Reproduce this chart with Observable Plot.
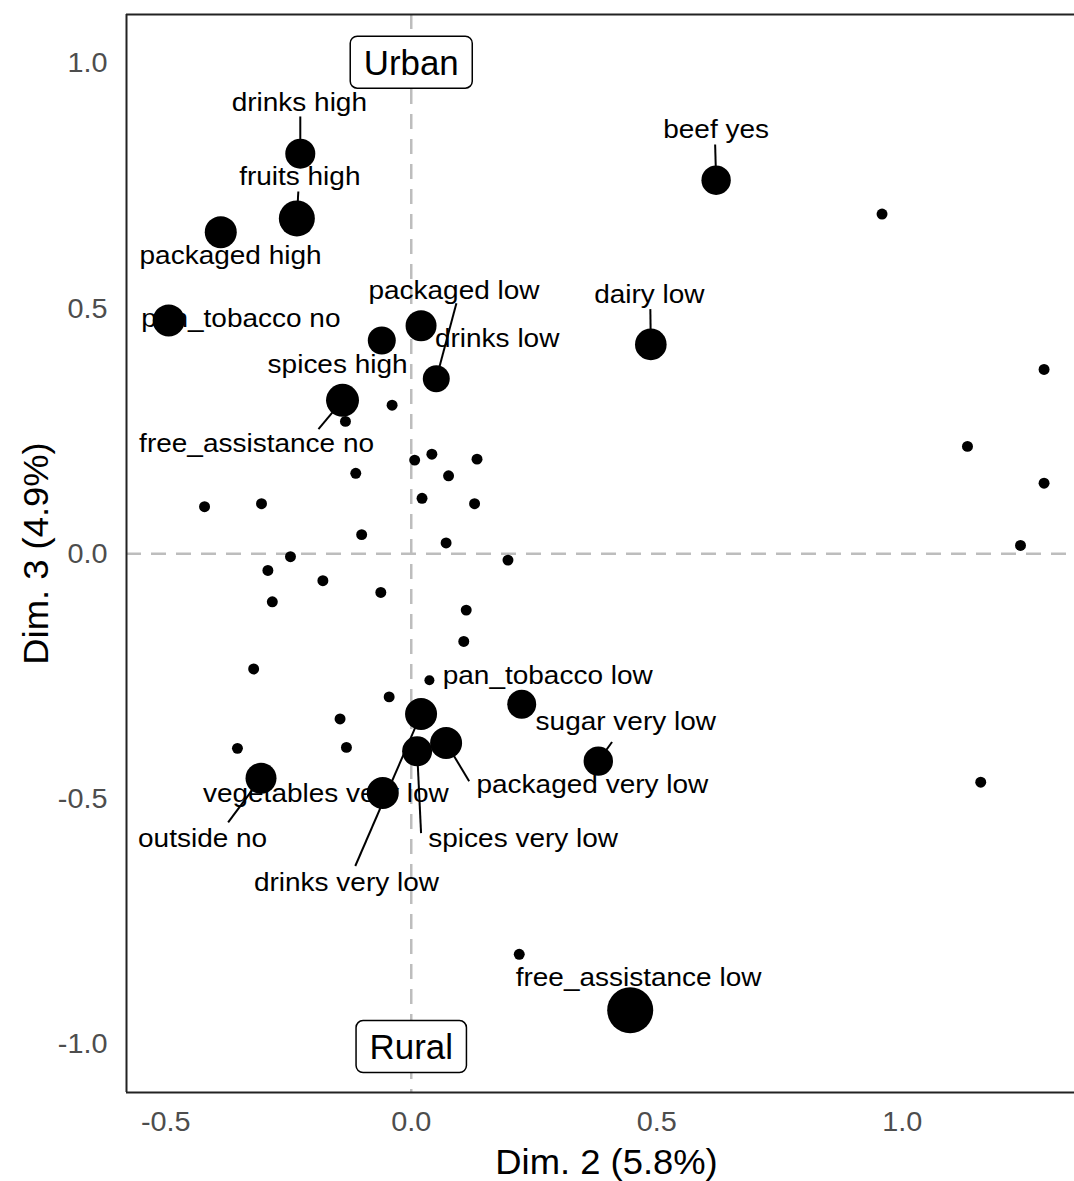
<!DOCTYPE html>
<html><head><meta charset="utf-8">
<script src="https://cdn.jsdelivr.net/npm/d3@7"></script>
<script src="https://cdn.jsdelivr.net/npm/@observablehq/plot@0.6"></script>
<style>
body{margin:0;background:#fff;}
#chart{width:1074px;height:1181px;}
</style>
</head><body><div id="chart"></div>
<script>
// ---- category coordinates (MCA dims 2 & 3) ----
const pointNames = [
  "drinks high","fruits high","packaged high","pan_tobacco no","spices high","drinks low",
  "packaged low","free_assistance no","beef yes","dairy low","drinks very low","spices very low",
  "packaged very low","vegetables very low","outside no","","sugar very low","free_assistance low",
  "pan_tobacco low",
  "","","","","","","","","","","","","","","","","","","","","","","","","","","","","","","","",""
];
const pointDim2 = [
  -0.226,-0.233,-0.388,-0.494,-0.060,0.020,
  0.051,-0.140,0.621,0.488,0.020,0.012,
  0.071,-0.058,-0.306,0.225,0.381,0.446,
  0.037,
  0.959,1.289,1.133,1.289,1.241,1.160,0.220,0.197,-0.134,-0.039,0.007,0.042,0.134,0.076,-0.113,
  -0.421,-0.305,0.022,0.129,-0.101,0.071,-0.246,-0.292,-0.180,-0.062,-0.283,0.112,0.107,-0.321,
  -0.045,-0.145,-0.354,-0.132
];
const pointDim3 = [
  0.816,0.684,0.656,0.476,0.435,0.465,
  0.357,0.313,0.762,0.427,-0.327,-0.403,
  -0.386,-0.488,-0.458,-0.307,-0.423,-0.931,
  -0.258,
  0.693,0.376,0.219,0.144,0.017,-0.466,-0.817,-0.013,0.270,0.303,0.191,0.203,0.193,0.159,0.164,
  0.096,0.102,0.113,0.102,0.039,0.022,-0.006,-0.034,-0.055,-0.079,-0.098,-0.115,-0.179,-0.235,
  -0.292,-0.337,-0.397,-0.395
];
const pointContrib = [
  2.25,3.24,2.56,2.56,1.96,2.40,
  1.82,2.72,2.16,2.50,2.56,2.25,
  2.56,2.56,2.40,2.10,2.16,5.29,
  0.25,
  0.30,0.30,0.30,0.30,0.30,0.30,0.30,0.30,0.30,0.30,0.30,0.30,0.30,0.30,0.30,
  0.30,0.30,0.30,0.30,0.30,0.30,0.30,0.30,0.30,0.30,0.30,0.30,0.30,0.30,
  0.30,0.30,0.30,0.30
];

// ---- repelled label positions ----
const labelText = [
  "drinks high","fruits high","packaged high","pan_tobacco no","packaged low","drinks low",
  "spices high","free_assistance no","beef yes","dairy low","pan_tobacco low","sugar very low",
  "packaged very low","vegetables very low","spices very low","outside no","drinks very low",
  "free_assistance low"
];
const labelDim2 = [
  -0.228,-0.227,-0.368,-0.347,0.087,0.175,
  -0.150,-0.315,0.621,0.485,0.278,0.437,
  0.369,-0.174,0.228,-0.425,-0.132,
  0.463
];
const labelDim3 = [
  0.919,0.768,0.607,0.478,0.535,0.439,
  0.386,0.223,0.864,0.527,-0.250,-0.344,
  -0.472,-0.490,-0.582,-0.582,-0.672,
  -0.866
];

// ---- leader segments: label name -> label-side end ----
const segName = [
  "drinks high","fruits high","packaged low","free_assistance no","beef yes","dairy low",
  "sugar very low","packaged very low","spices very low","outside no","drinks very low"
];
const segEndDim2 = [-0.226,-0.230,0.092,-0.189,0.619,0.487,0.409,0.118,0.020,-0.373,-0.114];
const segEndDim3 = [0.892,0.739,0.511,0.254,0.835,0.499,-0.384,-0.464,-0.570,-0.548,-0.637];

// ---- group annotations ----
const groupText = ["Urban","Rural"];
const groupDim2 = [0, 0];
const groupDim3 = [1.0, -1.008];

// ---- axes ----
const xTicks = [-0.5, 0.0, 0.5, 1.0];
const yTicks = [-1.0, -0.5, 0.0, 0.5, 1.0];
const xTitle = "Dim. 2 (5.8%)";
const yTitle = "Dim. 3 (4.9%)";
const xDomain = [-0.58, 1.351];
const yDomain = [-1.099, 1.100];

// ---- build tables ----
const points = pointNames.map((n, i) => ({name: n, x: pointDim2[i], y: pointDim3[i], c: pointContrib[i]}));
const labels = labelText.map((t, i) => ({text: t, x: labelDim2[i], y: labelDim3[i]}));
const byName = new Map(points.filter(p => p.name).map(p => [p.name, p]));
const segs = segName.map((n, i) => ({x1: byName.get(n).x, y1: byName.get(n).y, x2: segEndDim2[i], y2: segEndDim3[i]}));
const groups = groupText.map((t, i) => ({text: t, x: groupDim2[i], y: groupDim3[i]}));

const fmt = d => d.toFixed(1);
const FS_LABEL = 25, FS_TICK = 28, FS_TITLE = 35, FS_GROUP = 34.9;
const stretchBySize = {[FS_LABEL]: 1.12, [FS_TICK]: 1.03, [FS_TITLE]: 1.04, [FS_GROUP]: 1.0};

const chart = Plot.plot({
  width: 1074, height: 1181,
  marginLeft: 126, marginRight: 0, marginTop: 14, marginBottom: 89,
  style: {fontFamily: "'Liberation Sans', Arial, Helvetica, sans-serif", background: "white", color: "black"},
  x: {domain: xDomain},
  y: {domain: yDomain},
  r: {type: "sqrt", domain: [0, 5.29], range: [0, 23]},
  marks: [
    Plot.ruleX([0], {stroke: "#bdbdbd", strokeWidth: 2.5, strokeDasharray: "15,10"}),
    Plot.ruleY([0], {stroke: "#bdbdbd", strokeWidth: 2.5, strokeDasharray: "15,10"}),
    Plot.link(segs, {x1: "x1", y1: "y1", x2: "x2", y2: "y2", stroke: "black", strokeWidth: 2}),
    Plot.text(labels, {x: "x", y: "y", text: "text", fontSize: FS_LABEL, fill: "black"}),
    Plot.dot(points, {x: "x", y: "y", r: "c", fill: "black", stroke: "none"}),
    Plot.text(groups, {x: "x", y: "y", text: "text", fontSize: FS_GROUP, fill: "black", className: "grp-label"}),
    Plot.ruleX([xDomain[0]], {stroke: "#222", strokeWidth: 2}),
    Plot.ruleY(yDomain, {stroke: "#222", strokeWidth: 2}),
    Plot.axisX({ticks: xTicks, tickFormat: fmt, tickSize: 0, tickPadding: 19, fontSize: FS_TICK, fill: "#4d4d4d", label: null}),
    Plot.axisY({ticks: yTicks, tickFormat: fmt, tickSize: 0, tickPadding: 19, fontSize: FS_TICK, fill: "#4d4d4d", label: null}),
    Plot.text([xTitle], {frameAnchor: "bottom", textAnchor: "middle", lineAnchor: "middle", dy: 70, dx: 6, fontSize: FS_TITLE, fill: "black"}),
    Plot.text([yTitle], {frameAnchor: "left", textAnchor: "middle", lineAnchor: "middle", dx: -90, rotate: -90, fontSize: FS_TITLE, fill: "black"})
  ]
});
document.getElementById("chart").appendChild(chart);

// horizontal glyph stretch around each anchor (reference text is rendered slightly wide)
chart.querySelectorAll("text").forEach(t => {
  const g = t.closest("[font-size]");
  const fs = g ? parseFloat(g.getAttribute("font-size")) : NaN;
  const s = stretchBySize[fs] || 1;
  const tr = t.getAttribute("transform");
  if (tr && s !== 1) t.setAttribute("transform", tr + ` scale(${s},1)`);
});

// boxed group labels
const NS = "http://www.w3.org/2000/svg";
chart.querySelectorAll(".grp-label text").forEach(t => {
  const bb = t.getBBox();
  const padX = 13.5, padY = 6.5;
  const r = document.createElementNS(NS, "rect");
  r.setAttribute("transform", t.getAttribute("transform"));
  r.setAttribute("x", bb.x - padX);
  r.setAttribute("y", bb.y - padY);
  r.setAttribute("width", bb.width + 2 * padX);
  r.setAttribute("height", bb.height + 2 * padY);
  r.setAttribute("rx", 7);
  r.setAttribute("ry", 7);
  r.setAttribute("fill", "white");
  r.setAttribute("stroke", "black");
  r.setAttribute("stroke-width", 1.5);
  t.parentNode.insertBefore(r, t);
});
</script>
</body></html>
